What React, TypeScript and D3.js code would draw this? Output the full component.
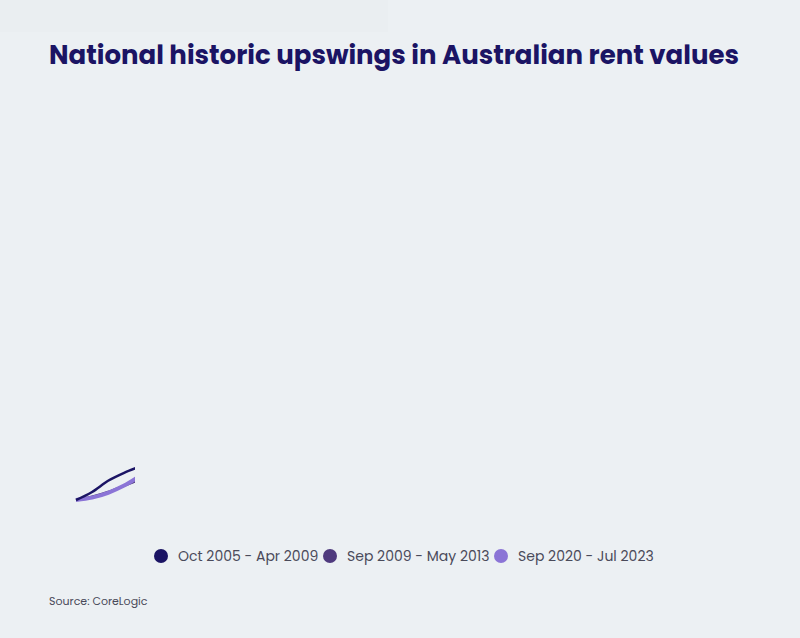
import React from "react";
import * as d3 from "d3";

const seriesNames = ["Oct 2005 - Apr 2009", "Sep 2009 - May 2013", "Sep 2020 - Jul 2023"];
const colors = ["#1b1464", "#4f3a7e", "#8b74d6"];
const months = [0, 1, 2, 3, 4, 5, 6, 7, 8];
const s1 = [0, 0.5, 1.2, 1.7, 2.1, 2.5, 3.0, 3.4, 3.9];
const s2 = [0, 0.2, 0.5, 0.9, 1.3, 1.8, 2.2, 2.7, 3.1];
const s3 = [0, 0.15, 0.45, 0.9, 1.5, 2.1, 2.7, 3.3, 3.9];
const allSeries = [s1, s2, s3];

export default function App() {
  const W = 800, H = 638;
  const x = d3.scaleLinear().domain([0, 42]).range([76, 750]);
  const y = d3.scaleLinear().domain([0, 25]).range([500, 100]);
  const line = d3.line<number>().x((_, i) => x(months[i])).y(d => y(d)).curve(d3.curveMonotoneX);
  const widths = [2.5, 2.5, 4];
  const order = [1, 2, 0];
  const legendX = [161, 330, 501];
  return (
    <svg width={W} height={H} style={{ position: "absolute", left: 0, top: 0, fontFamily: "Poppins, 'Open Sans', sans-serif" }}>
      <rect width={W} height={H} fill="#ecf0f3" />
      <rect x={0} y={0} width={388} height={32} fill="#eaeef1" />
      <text x={49} y={64} fontSize={26} fontWeight={700} fill="#1b1464" style={{ fontFamily: "Poppins, Roboto, sans-serif" }}>National historic upswings in Australian rent values</text>
      <defs>
        <clipPath id="reveal"><rect x={70} y={80} width={65} height={430} /></clipPath>
      </defs>
      <g clipPath="url(#reveal)">
        {order.map(i => (
          <path key={i} d={line(allSeries[i]) || ""} fill="none" stroke={colors[i]} strokeWidth={widths[i]} />
        ))}
      </g>
      {seriesNames.map((n, i) => (
        <g key={n}>
          <circle cx={legendX[i]} cy={556} r={7} fill={colors[i]} />
          <text x={legendX[i] + 17} y={561} fontSize={14} fill="#4a4a5a">{n}</text>
        </g>
      ))}
      <text x={49} y={605} fontSize={11} fill="#4a4a5a">Source: CoreLogic</text>
    </svg>
  );
}
